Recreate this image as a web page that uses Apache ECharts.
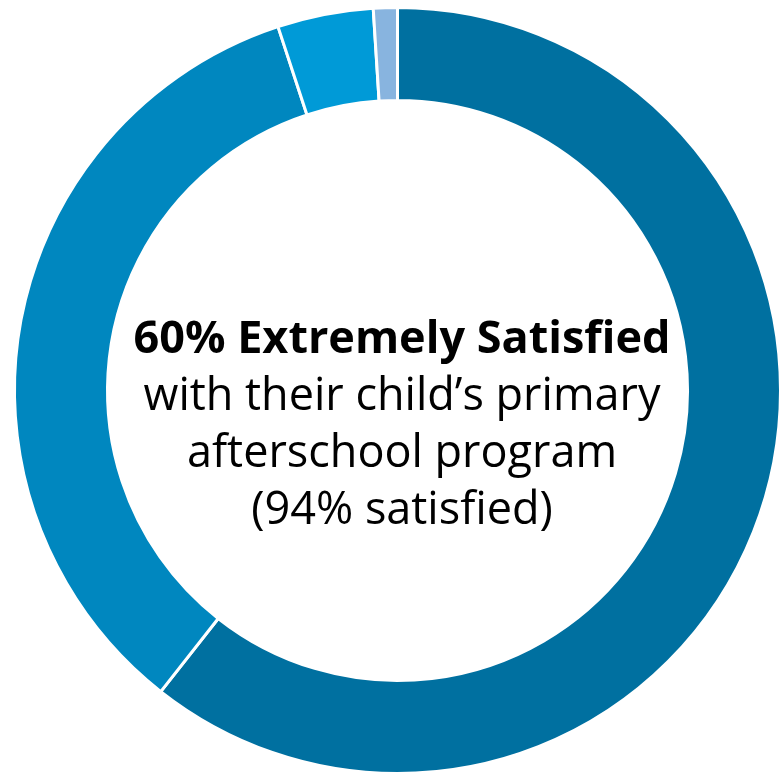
<!DOCTYPE html>
<html><head><meta charset="utf-8">
<script src="https://cdn.jsdelivr.net/npm/echarts@6/dist/echarts.min.js"></script>
<style>html,body{margin:0;padding:0;background:#fff}#c{width:779px;height:774px}</style>
</head><body><div id="c"></div>
<script>
const categories = ['Extremely satisfied', 'Somewhat satisfied', 'Somewhat dissatisfied', 'Extremely dissatisfied'];
const values = [60, 34, 4, 1];
const colors = ['#0070A0', '#0087BF', '#009AD7', '#88B4DF'];
const centerLines = ['60% Extremely Satisfied', 'with their child\u2019s primary', 'afterschool program', '(94% satisfied)'];

const chart = echarts.init(document.getElementById('c'));
chart.setOption({
  animation: false,
  backgroundColor: '#fff',
  title: {
    left: 397, top: 307, textAlign: 'center',
    text: '{b|' + centerLines[0] + '}\n{n|' + centerLines[1] + '}\n{n|' + centerLines[2] + '}\n{n|' + centerLines[3] + '}',
    textStyle: {
      rich: {
        b: {fontFamily: 'Open Sans', fontWeight: 'bold', fontSize: 45, lineHeight: 57, color: '#000'},
        n: {fontFamily: 'Open Sans', fontWeight: 'normal', fontSize: 45, lineHeight: 57, color: '#000'}
      }
    }
  },
  series: [{
    type: 'pie',
    center: [397.5, 390.5],
    radius: [290, 383],
    startAngle: 90,
    clockwise: true,
    label: {show: false},
    labelLine: {show: false},
    itemStyle: {borderColor: '#fff', borderWidth: 3},
    data: categories.map((c, i) => ({name: c, value: values[i], itemStyle: {color: colors[i]}}))
  }]
});
</script></body></html>
